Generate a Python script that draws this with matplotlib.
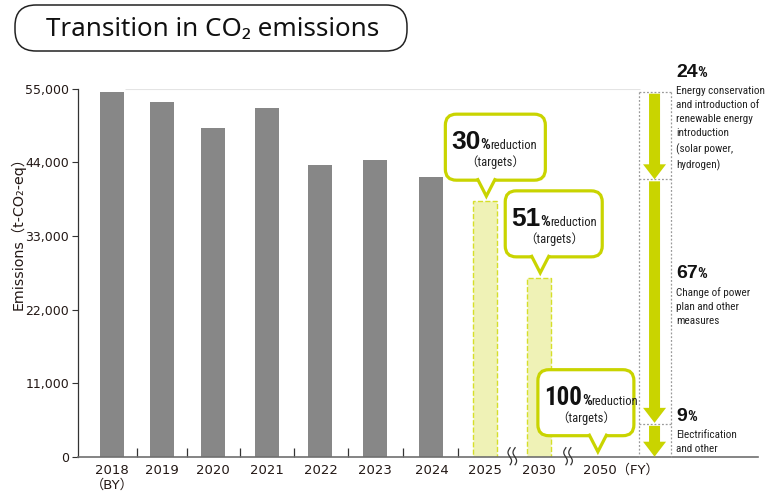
import numpy as np
import matplotlib.pyplot as plt
import matplotlib.font_manager as fm
from matplotlib.patches import FancyBboxPatch, Polygon
from matplotlib.ticker import FuncFormatter

plt.rcParams['font.family'] = ['DejaVu Sans', 'Noto Sans CJK JP']

# data
years = ['2018\n（BY）', '2019', '2020', '2021', '2022', '2023', '2024', '2025', '2030', '2050']
actual = [54550, 52970, 49170, 52110, 43600, 44390, 41800]
targets = [38190, 26730, 0]          # 2025, 2030, 2050
target_pct = [30, 51, 100]
measure_pct = [24, 67, 9]
measure_text = ['Energy conservation\nand introduction of\nrenewable energy\nintroduction\n(solar power,\nhydrogen)',
                'Change of power\nplan and other\nmeasures',
                'Electrification\nand other']

# layout
xpos = [0, 0.93, 1.87, 2.87, 3.87, 4.89, 5.93, 6.93, 7.93, 9.0]
W, H = 770, 503
GRAY = '#878787'
GREEN = '#c9d400'
BOLD = ['Liberation Sans', 'Noto Sans CJK JP']

# pick a condensed sans face if one is installed
condensed = {}
for f in fm.fontManager.ttflist:
    if f.stretch in ('condensed', 'semi-condensed', 'extra-condensed') and f.style == 'normal':
        condensed.setdefault(f.name, f.stretch)
NARROW = None
for name in ['Liberation Sans Narrow', 'Roboto Condensed', 'Roboto', 'Open Sans', 'Noto Sans', 'DejaVu Sans', 'Lato']:
    if name in condensed:
        NARROW = dict(family=[name, 'Noto Sans CJK JP'], stretch=condensed[name])
        nscale = 1.0
        break
if NARROW is None:
    NARROW = dict(family=['Liberation Sans', 'Noto Sans CJK JP'])
    nscale = 0.82

fig = plt.figure(figsize=(W / 100, H / 100), dpi=100)
ax = fig.add_axes([78 / W, (H - 456.7) / H, (758 - 78) / W, (456.7 - 88.7) / H])
ax.set_xlim(-0.63, 11.99)
ax.set_ylim(0, 55000)

n = len(actual)
ax.bar(xpos[:n], actual, width=0.445, color=GRAY, zorder=2)
ax.bar(xpos[n:n + 2], targets[:2], width=0.445, facecolor='#eff2b6',
       edgecolor='#d6df2a', linestyle='--', linewidth=1, zorder=2)
ax.hlines(55000, 0.24, 9.8, color='#e4e4e4', lw=0.8, zorder=1)

ax.set_yticks(np.arange(0, 55001, 11000))
ax.yaxis.set_major_formatter(FuncFormatter(lambda v, p: f'{int(v):,}'))
ax.tick_params(axis='y', direction='out', length=4.3, width=0.8, color='#333333',
               labelsize=9, labelcolor='#231815', pad=2)
ax.set_xticks(xpos[:9])
ax.set_xticklabels(years[:9])
ax.tick_params(axis='x', length=0, labelsize=9.5, labelcolor='#231815', pad=5)
ax.set_xticks([(xpos[i] + xpos[i + 1]) / 2 for i in range(n)], minor=True)
ax.tick_params(axis='x', which='minor', direction='in', length=6.5, width=0.9, color='#333333')
ax.annotate('2050（FY）', xy=(xpos[9], 0), xycoords=('data', 'axes fraction'),
            xytext=(-10, -5), textcoords='offset points', ha='left', va='top',
            fontsize=9.5, color='#231815')
for s in ['top', 'right']:
    ax.spines[s].set_visible(False)
ax.spines['left'].set_color('#333333')
ax.spines['left'].set_linewidth(0.9)
ax.spines['bottom'].set_color('#707070')
ax.spines['bottom'].set_linewidth(1.2)

fig.text(18 / W, 1 - 230 / H, 'Emissions（t-CO₂-eq）', rotation=90, ha='center', va='center',
         fontsize=10.3, color='#231815')

# overlay in pixel units for decorations
ov = fig.add_axes([0, 0, 1, 1], zorder=5)
ov.set_xlim(0, W)
ov.set_ylim(H, 0)
ov.axis('off')
ov.patch.set_alpha(0)
renderer = fig.canvas.get_renderer()


def to_px(x, y):
    dx, dy = ax.transData.transform((x, y))
    return dx, H - dy


def run(x, y, parts):
    for s, kw in parts:
        t = ov.text(x, y, s, ha='left', va='baseline', **kw)
        x += t.get_window_extent(renderer).width


# title
ov.add_patch(FancyBboxPatch((15, 5), 392, 46, boxstyle='round,pad=0,rounding_size=21',
                            fc='white', ec='#222222', lw=1.1))
ov.text(213, 36, 'Transition in CO₂ emissions', ha='center', va='baseline',
        fontsize=18.7, family=['Noto Sans', 'DejaVu Sans'], color='#111111')

# axis break marks
yb = to_px(0, 0)[1]
for i in (7, 8):
    bx = to_px((xpos[i] + xpos[i + 1]) / 2, 0)[0]
    yy = np.linspace(yb - 9, yb + 8, 30)
    for off in (-2.5, 2.5):
        ov.plot(bx + off + 1.8 * np.sin((yy - yb) / 17 * 2 * np.pi), yy, color='#333333', lw=0.9)

# callouts
vals = [None] * n + targets
callout_geom = [(-41, 100), (-35, 97), (-60, 96)]
for k, (pct, (dl, bw)) in enumerate(zip(target_pct, callout_geom)):
    tx, ty = to_px(xpos[n + k], vals[n + k])
    tx += 1
    ty -= 5
    bottom = ty - 16
    top = bottom - 66
    left = tx + dl
    ov.add_patch(FancyBboxPatch((left, top), bw, 66, boxstyle='round,pad=0,rounding_size=11',
                                fc='white', ec=GREEN, lw=2.3, zorder=3))
    ov.add_patch(Polygon([(tx - 8, bottom - 3), (tx - 8, bottom), (tx, ty), (tx + 8, bottom), (tx + 8, bottom - 3)],
                         closed=True, fc='white', ec='none', zorder=4))
    ov.plot([tx - 8.5, tx, tx + 8.5], [bottom - 0.5, ty, bottom - 0.5], color=GREEN, lw=2.3,
            solid_joinstyle='miter', zorder=5)
    if pct >= 100:
        num = dict(fontsize=18 * nscale, weight='bold', color='#111111', zorder=6, **NARROW)
    else:
        num = dict(fontsize=19, weight='bold', family=BOLD, color='#111111', zorder=6)
    run(left + 6, top + 35, [(str(pct), num),
                             ('%', dict(fontsize=11 * nscale, weight='bold', color='#111111', zorder=6, **NARROW)),
                             ('reduction', dict(fontsize=9 * nscale, color='#222222', zorder=6, **NARROW))])
    ov.text(left + bw / 2, top + 52, '（targets）', ha='center', va='baseline', fontsize=9 * nscale,
            color='#222222', zorder=6, **NARROW)

# right column: breakdown of reduction measures
base = actual[0]
bounds = [base]
for p in measure_pct:
    bounds.append(bounds[-1] - base * p / 100)
bounds[-1] = 0
xl = to_px(9.78, 0)[0]
xr = to_px(10.37, 0)[0]
xc = to_px(10.07, 0)[0]
ys = [to_px(0, b)[1] for b in bounds]
dot = dict(color='#9a9a9a', lw=0.9, linestyle=(0, (1.5, 1.5)))
for x in (xl, xr):
    ov.plot([x, x], [ys[0], ys[-1]], **dot)
for y in ys[:-1]:
    ov.plot([xl, xr], [y, y], **dot)


def down_arrow(x, y0, y1, shaft=11, head_w=23, head_l=15):
    pts = [(x - shaft / 2, y0), (x + shaft / 2, y0), (x + shaft / 2, y1 - head_l), (x + head_w / 2, y1 - head_l),
           (x, y1), (x - head_w / 2, y1 - head_l), (x - shaft / 2, y1 - head_l)]
    ov.add_patch(Polygon(pts, closed=True, fc=GREEN, ec='none', zorder=3))


for i in range(3):
    down_arrow(xc, ys[i] + 2, ys[i + 1] - (1 if i == 1 else 0))

label_y = [77, 278, 421]
for pct, txt, y in zip(measure_pct, measure_text, label_y):
    run(676, y, [(str(pct), dict(fontsize=14, weight='bold', family=BOLD, color='#111111')),
                 ('%', dict(fontsize=11 * nscale, weight='bold', color='#111111', **NARROW))])
    ov.text(676, y + 9, txt, ha='left', va='top', fontsize=8 * nscale,
            color='#222222', linespacing=1.52 / nscale ** 0.5, **NARROW)

fig.savefig('out.png', dpi=100)
